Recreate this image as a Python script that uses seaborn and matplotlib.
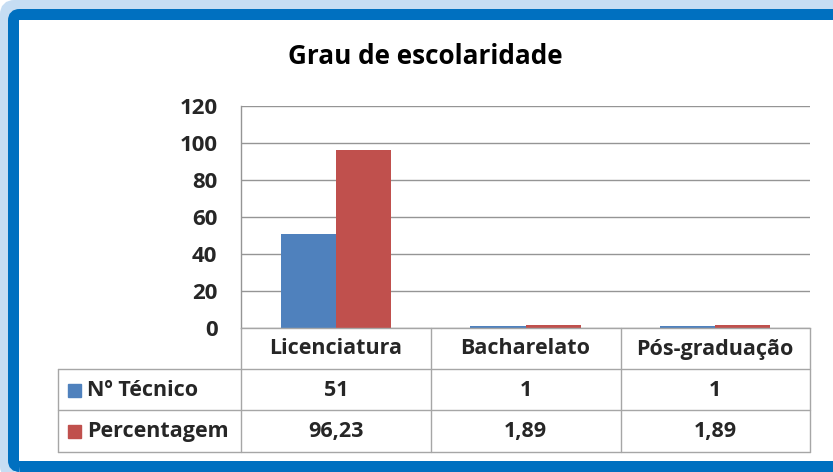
import pandas as pd
import seaborn as sns
import matplotlib.pyplot as plt
from matplotlib.lines import Line2D
from matplotlib.patches import Rectangle, FancyBboxPatch
from matplotlib.transforms import blended_transform_factory

# data
categorias = ["Licenciatura", "Bacharelato", "Pós-graduação"]
tecnico = [51, 1, 1]
percentagem = [96.23, 1.89, 1.89]
series = ["Nº Técnico", "Percentagem"]
cores = ["#4F81BD", "#C0504D"]
yticks = [0, 20, 40, 60, 80, 100, 120]

df = pd.DataFrame({
    "categoria": categorias * 2,
    "valor": tecnico + percentagem,
    "serie": [series[0]] * 3 + [series[1]] * 3,
})

sns.set_style("white")
plt.rcParams["font.family"] = ["Open Sans", "DejaVu Sans"]
plt.rcParams["font.weight"] = "bold"

W, H = 833, 472
fig = plt.figure(figsize=(W / 100, H / 100), dpi=100, facecolor="white")

def fx(x):
    return x / W

def fy(y):
    return 1 - y / H

# plot area
left, right, top, bottom = 241, 810, 106, 328
ax = fig.add_axes([fx(left), fy(bottom), fx(right - left), (bottom - top) / H])
sns.barplot(data=df, x="categoria", y="valor", hue="serie", palette=cores,
            width=0.58, saturation=1, legend=False, ax=ax, edgecolor="none")
ax.set_ylim(0, 120)
ax.set_xlim(-0.5, 2.5)
ax.set_yticks(yticks)
ax.set_yticklabels([str(v) for v in yticks], fontsize=16, fontweight="bold")
ax.tick_params(axis="y", length=0, pad=17)
ax.set_xticks([])
ax.set_xlabel("")
ax.set_ylabel("")
ax.yaxis.grid(True, color="#959595", linewidth=1.0)
ax.set_axisbelow(True)
for s in ["top", "right"]:
    ax.spines[s].set_visible(False)
ax.spines["left"].set_color("#959595")
ax.spines["bottom"].set_color("#A6A6A6")
ax.spines["left"].set_linewidth(1.0)
ax.spines["bottom"].set_linewidth(1.0)

# title
fig.text(fx(425), fy(56), "Grau de escolaridade", ha="center", va="center",
         fontsize=18.8, fontweight="bold", color="#000000")

# data table
grid_c = "#A6A6A6"
col_x = [241, 431, 621, 810]
row_y = [328, 369, 410, 452]
for x in col_x:
    fig.add_artist(Line2D([fx(x), fx(x)], [fy(row_y[0]), fy(row_y[-1])],
                          color=grid_c, lw=1.0))
fig.add_artist(Line2D([fx(58), fx(58)], [fy(row_y[1]), fy(row_y[-1])],
                      color=grid_c, lw=1.0))
for y in row_y[1:]:
    fig.add_artist(Line2D([fx(58), fx(810)], [fy(y), fy(y)], color=grid_c, lw=1.0))

tr = blended_transform_factory(ax.transData, ax.transAxes)

def ay(y):
    return (bottom - y) / (bottom - top)

def fmt(v):
    if float(v).is_integer():
        return str(int(v))
    return f"{v:.2f}".replace(".", ",")

fs = 15.5
for i, cat in enumerate(categorias):
    ax.text(i, ay(349), cat, transform=tr, ha="center", va="center",
            fontsize=fs, fontweight="bold", clip_on=False)
    ax.text(i, ay(390), fmt(tecnico[i]), transform=tr, ha="center", va="center",
            fontsize=fs, fontweight="bold", clip_on=False)
    ax.text(i, ay(431), fmt(percentagem[i]), transform=tr, ha="center", va="center",
            fontsize=fs, fontweight="bold", clip_on=False)

for j, (nome, cor) in enumerate(zip(series, cores)):
    yc = 390 + 41 * j
    fig.patches.append(Rectangle((fx(68), fy(yc + 6.5)), fx(13), 13 / H,
                                 transform=fig.transFigure, color=cor))
    fig.text(fx(87), fy(yc), nome, ha="left", va="center",
             fontsize=fs, fontweight="bold")

# blue frame around the chart
glow = FancyBboxPatch((6.5, -2), 845, H - 4.5, boxstyle="round,pad=0,rounding_size=8",
                      transform=None, fill=False, edgecolor="#C6DDF3",
                      linewidth=13 * 0.72)
frame = FancyBboxPatch((13.5, 5.5), 845, H - 20, boxstyle="round,pad=0,rounding_size=6",
                       transform=None, fill=False, edgecolor="#0070C0",
                       linewidth=11 * 0.72)
fig.patches.append(glow)
fig.patches.append(frame)

plt.savefig("out.png", dpi=100, facecolor="white")
